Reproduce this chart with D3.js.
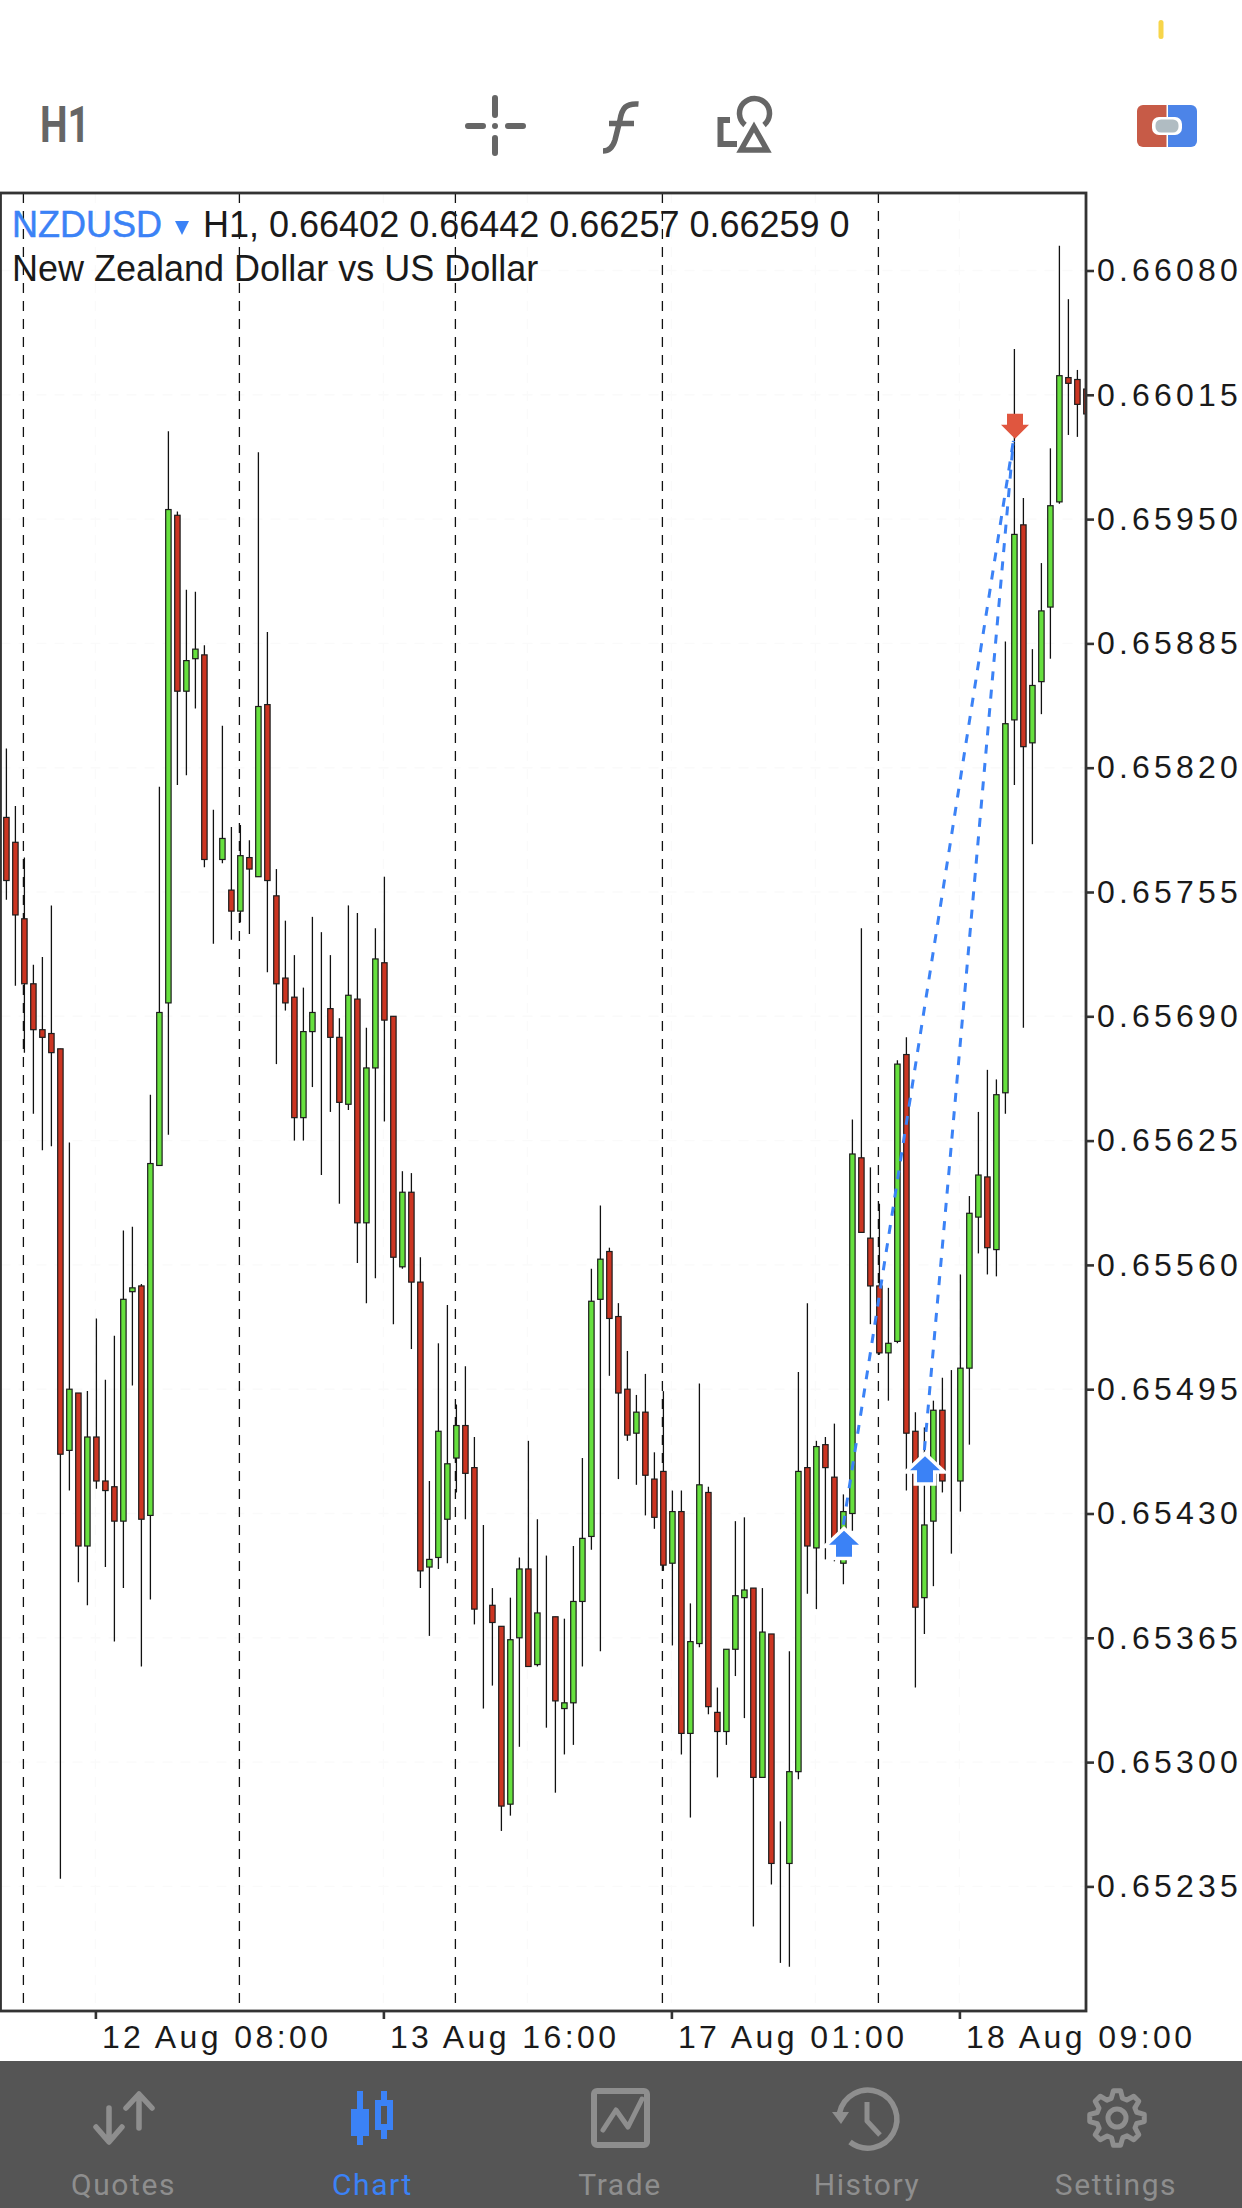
<!DOCTYPE html>
<html><head><meta charset="utf-8">
<script src="https://cdn.jsdelivr.net/npm/d3@7"></script>
<style>html,body{margin:0;padding:0;background:#fff}svg{display:block}
text{font-family:"Liberation Sans",Arial,sans-serif}</style></head>
<body><svg id="c" width="1242" height="2208"></svg>
<script>
// prices are in points (0.00001)
const opens=[65794,65781,65741,65707,65683,65681,65673,65463,65493,65413,65470,65447,65444,65426,65546,65549,65429,65612,65697,65952,65860,65877,65879,65771,65772,65756,65745,65773,65763,65853,65753,65710,65700,65637,65682,65692,65694,65679,65644,65699,65582,65663,65718,65690,65559,65598,65551,65402,65407,65427,65459,65476,65454,65382,65382,65371,65278,65365,65401,65351,65376,65376,65328,65331,65384,65418,65542,65567,65533,65495,65472,65483,65448,65452,65404,65431,65315,65362,65441,65326,65316,65359,65386,65391,65292,65367,65247,65247,65295,65454,65412,65466,65449,65404,65430,65616,65574,65549,65514,65520,65670,65473,65386,65426,65484,65447,65447,65506,65585,65606,65568,65650,65845,65947,65833,65865,65904,65959,66024,66023,66018];
const highs=[65830,65800,65773,65717,65721,65748,65673,65624,65493,65494,65532,65500,65523,65578,65580,65550,65649,65810,65996,65954,65913,65912,65884,65798,65842,65789,65790,65782,65985,65891,65767,65740,65722,65705,65742,65734,65722,65689,65748,65744,65684,65736,65763,65690,65609,65608,65564,65447,65519,65539,65487,65507,65470,65424,65391,65371,65386,65407,65468,65427,65408,65376,65375,65413,65459,65558,65591,65569,65540,65515,65492,65503,65462,65494,65442,65442,65383,65498,65444,65339,65359,65426,65428,65391,65391,65367,65269,65358,65504,65540,65468,65470,65477,65440,65636,65736,65611,65592,65548,65667,65679,65483,65475,65489,65501,65505,65555,65596,65640,65662,65657,65886,66039,65961,65882,65927,65987,66093,66065,66028,66018];
const lows=[65751,65706,65671,65639,65620,65622,65239,65442,65394,65382,65443,65402,65363,65391,65497,65350,65385,65612,65628,65811,65816,65851,65768,65728,65770,65730,65739,65733,65763,65713,65665,65693,65625,65625,65653,65607,65640,65592,65641,65561,65540,65553,65635,65529,65558,65516,65391,65366,65401,65404,65441,65427,65372,65328,65340,65264,65272,65308,65350,65350,65318,65284,65304,65309,65350,65411,65358,65502,65448,65468,65445,65429,65422,65400,65361,65304,65271,65360,65325,65292,65309,65345,65323,65214,65292,65236,65195,65193,65291,65388,65380,65406,65405,65393,65421,65577,65529,65513,65489,65519,65442,65339,65367,65392,65441,65409,65431,65466,65566,65555,65554,65639,65811,65684,65780,65848,65877,65958,65994,65993,66005];
const closes=[65761,65743,65707,65683,65679,65671,65461,65495,65413,65470,65447,65442,65426,65542,65548,65427,65613,65692,65955,65860,65876,65882,65772,65771,65783,65745,65774,65767,65852,65761,65707,65697,65637,65682,65692,65692,65679,65645,65701,65582,65663,65720,65688,65564,65598,65551,65400,65406,65473,65456,65476,65451,65380,65382,65373,65277,65364,65401,65350,65378,65376,65332,65331,65384,65417,65541,65563,65532,65493,65471,65483,65450,65428,65403,65431,65315,65363,65445,65329,65316,65359,65387,65390,65292,65368,65247,65247,65295,65452,65413,65465,65454,65416,65431,65618,65577,65549,65514,65519,65665,65472,65381,65424,65484,65447,65447,65506,65587,65607,65569,65649,65843,65942,65831,65863,65902,65957,66025,66021,66010,66005];
const priceTicks=[66080,66015,65950,65885,65820,65755,65690,65625,65560,65495,65430,65365,65300,65235];
const timeTickBars=[10,42,74,106];
const timeTickLabels=["12 Aug 08:00","13 Aug 16:00","17 Aug 01:00","18 Aug 09:00"];
const gridBars=[10,26,42,58,74,90,106];
const separatorBars=[2,26,50,73,97];
const buyBars=[93,102];
const buyPrices=[65421,65460];
const sellBar=112;
const sellPrice=65992;
const tabs=["Quotes","Chart","Trade","History","Settings"];
const symbolName="NZDUSD";
const quote="H1, 0.66402 0.66442 0.66257 0.66259 0";
const description="New Zealand Dollar vs US Dollar";

const svg=d3.select("#c");
const PL=0.5,PT=193,PR=1086,PB=2011;
const x=d3.scaleLinear().domain([0,120]).range([6.4,1086.4]);
const y=d3.scaleLinear().domain([66080,65235]).range([270.5,1886.4]);
const defs=svg.append("defs");
defs.append("clipPath").attr("id","plot").append("rect").attr("x",PL).attr("y",PT).attr("width",PR-PL).attr("height",PB-PT);
const plot=svg.append("g").attr("clip-path","url(#plot)");

// faint grid
plot.selectAll("line.gy").data(priceTicks).join("line").attr("class","gy").attr("x1",PL).attr("x2",PR)
  .attr("y1",d=>y(d)).attr("y2",d=>y(d)).attr("stroke","#fafafa").attr("stroke-width",1.4).attr("stroke-dasharray","10 8");
plot.selectAll("line.gx").data(gridBars).join("line").attr("class","gx").attr("y1",PT).attr("y2",PB)
  .attr("x1",d=>x(d)-1).attr("x2",d=>x(d)-1).attr("stroke","#fafafa").attr("stroke-width",1.4).attr("stroke-dasharray","10 8");
// day separators
plot.selectAll("line.sep").data(separatorBars).join("line").attr("class","sep").attr("y1",193).attr("y2",2003)
  .attr("x1",d=>x(d)-1).attr("x2",d=>x(d)-1).attr("stroke","#111").attr("stroke-width",1.3).attr("stroke-dasharray","10 8");

// candles
const bars=d3.range(opens.length);
plot.selectAll("line.wick").data(bars).join("line").attr("class","wick").attr("x1",i=>x(i)).attr("x2",i=>x(i))
  .attr("y1",i=>y(highs[i])).attr("y2",i=>y(lows[i])).attr("stroke","#111").attr("stroke-width",1.3);
plot.selectAll("rect.body").data(bars).join("rect").attr("class","body")
  .attr("x",i=>x(i)-2.7).attr("width",5.4)
  .attr("y",i=>y(Math.max(opens[i],closes[i]))).attr("height",i=>Math.abs(y(opens[i])-y(closes[i])))
  .attr("fill",i=>closes[i]>=opens[i]?"#66e03e":"#cc3522")
  .attr("stroke","#1c1c1c").attr("stroke-width",1.2);

// trade links
const blue="#3b82f6";
buyBars.forEach((b,k)=>{
  plot.append("line").attr("x1",x(b)).attr("y1",y(buyPrices[k])-6).attr("x2",x(sellBar)-1).attr("y2",y(sellPrice)+2)
   .attr("stroke",blue).attr("stroke-width",3).attr("stroke-dasharray","9 9.4");
});
// arrows
function arrow(cx,tip,dir,col){
  const p=[[0,0],[15,14*1],[8,14],[8,26],[-8,26],[-8,14],[-15,14]].map(([a,b])=>[cx+a,tip+dir*b]);
  const g=plot.append("g");
  g.append("polygon").attr("points",p.join(" ")).attr("fill","#fff").attr("stroke","#fff").attr("stroke-width",7).attr("stroke-linejoin","miter");
  g.append("polygon").attr("points",p.join(" ")).attr("fill",col);
}
buyBars.forEach((b,k)=>arrow(x(b)+0.6,y(buyPrices[k]),1,blue));
{
  const p=[[0,0],[14,-14],[8,-14],[8,-25],[-8,-25],[-8,-14],[-14,-14]].map(([a,b])=>[x(sellBar)+0.6+a,y(sellPrice)+b]);
  plot.append("polygon").attr("points",p.join(" ")).attr("fill","#e0563f");
}

// axes
const axisStyle=g=>{
  g.selectAll(".domain").remove();
  g.selectAll(".tick line").attr("stroke","#333").attr("stroke-width",2.6);
  g.selectAll("text").attr("fill","#1a1a1a").style("font-family",'"Liberation Sans",Arial,sans-serif').style("font-size","32px");
};
svg.append("g").attr("transform",`translate(${PR+1},0)`)
  .call(d3.axisRight(y).tickValues(priceTicks).tickSize(7).tickPadding(3).tickFormat(d=>(d/100000).toFixed(5)))
  .call(axisStyle).call(g=>g.selectAll("text").style("letter-spacing","4.2px"));
svg.append("g").attr("transform",`translate(-1,${PB+1})`)
  .call(d3.axisBottom(x).tickValues(timeTickBars).tickSize(7).tickFormat((d,i)=>timeTickLabels[i]))
  .call(axisStyle).call(g=>g.selectAll("text").attr("text-anchor","start").attr("x",6).attr("y",0).attr("dy",36).style("letter-spacing","3.4px"));

// frame
svg.append("rect").attr("x",PL).attr("y",PT).attr("width",PR-PL).attr("height",PB-PT).attr("fill","none").attr("stroke","#333").attr("stroke-width",2.8);

// legend
svg.append("text").attr("x",12).attr("y",237).attr("fill",blue).attr("stroke",blue).attr("stroke-width",0.5).attr("font-size",36).text(symbolName);
svg.append("polygon").attr("points","175,221 189,221 182,235").attr("fill",blue);
svg.append("text").attr("x",203).attr("y",237).attr("fill","#1a1a1a").attr("font-size",36).text(quote);
svg.append("text").attr("x",12).attr("y",281).attr("fill","#1a1a1a").attr("font-size",36).text(description);

// top bar
const grey="#666";
svg.append("rect").attr("x",1158.5).attr("y",20).attr("width",5).attr("height",19).attr("rx",2.5).attr("fill","#f7d54a");
svg.append("text").attr("x",40).attr("y",141.5).attr("fill",grey).attr("font-size",50).attr("font-weight",700)
  .attr("textLength",50).attr("lengthAdjust","spacingAndGlyphs").style("font-family","Roboto").text("H1");
const topIcons=svg.append("g").attr("fill","none").attr("stroke",grey);
topIcons.append("path").attr("d","M468 126H483M508 126H523M495 98V115M495 138V153").attr("stroke-width",6).attr("stroke-linecap","round");
svg.append("circle").attr("cx",495).attr("cy",126).attr("r",3).attr("fill",grey);
topIcons.append("path").attr("d","M638.5 104C626 103 622 108 620 120L615 140C612 150 606 151 603 151").attr("stroke-width",5.5);
topIcons.append("path").attr("d","M609 123.5H634").attr("stroke-width",5.5);
topIcons.append("path").attr("d","M745 125A15 15 0 1 1 764 125").attr("stroke-width",5.5);
topIcons.append("path").attr("d","M730 120H720.5V144H737").attr("stroke-width",6);
topIcons.append("path").attr("d","M754 127L767 150H741Z").attr("stroke-width",5.5);
// one-click toggle
svg.append("path").attr("d","M1166.5 105H1143a6 6 0 0 0 -6 6V141a6 6 0 0 0 6 6H1166.5Z").attr("fill","#c75b47");
svg.append("path").attr("d","M1168 105H1191a6 6 0 0 1 6 6V141a6 6 0 0 1 -6 6H1168Z").attr("fill","#4c84e8");
svg.append("rect").attr("x",1152).attr("y",117).attr("width",30).attr("height",18).attr("rx",7).attr("fill","#fff");
svg.append("rect").attr("x",1155.5).attr("y",119.5).attr("width",23).attr("height",13).attr("rx",5.5).attr("fill","#b0bcc2");

// tab bar
svg.append("rect").attr("x",0).attr("y",2061).attr("width",1242).attr("height",147).attr("fill","#555");
const tabX=[123.5,372.5,620,867,1116];
svg.selectAll("text.tab").data(tabs).join("text").attr("class","tab").attr("x",(d,i)=>tabX[i]).attr("y",2195).attr("text-anchor","middle")
  .attr("font-size",30).attr("letter-spacing",1.6).attr("fill",(d,i)=>i==1?blue:"#8e8e8e").style("font-family","Roboto").text(d=>d);
const ic="#8e8e8e";
const ig=svg.append("g").attr("fill","none").attr("stroke",ic).attr("stroke-width",5.5).attr("stroke-linecap","round").attr("stroke-linejoin","round");
ig.append("path").attr("d","M139 2096V2128M126 2108L139 2094L152 2108");
ig.append("path").attr("d","M109 2108V2140M96 2127L109 2142L122 2127");
svg.append("rect").attr("x",357).attr("y",2091).attr("width",6).attr("height",54).attr("fill",blue);
svg.append("rect").attr("x",351).attr("y",2109).attr("width",18).attr("height",27).attr("fill",blue);
svg.append("rect").attr("x",381).attr("y",2091).attr("width",6).attr("height",48).attr("fill",blue);
svg.append("rect").attr("x",375).attr("y",2100).attr("width",18).attr("height",30).attr("fill",blue);
svg.append("rect").attr("x",381).attr("y",2106).attr("width",6).attr("height",18).attr("fill","#555");
svg.append("rect").attr("x",594).attr("y",2091).attr("width",53).attr("height",54).attr("rx",3).attr("fill","none").attr("stroke",ic).attr("stroke-width",6);
ig.append("path").attr("d","M603 2130L616 2110L628 2127L642 2099").attr("stroke-width",5);
// history
ig.append("path").attr("d","M839.5 2113A29 29 0 1 1 850 2142").attr("stroke-linecap","butt");
svg.append("polygon").attr("points","832,2112 849,2112 841,2124").attr("fill",ic);
ig.append("path").attr("d","M867 2102V2121L880 2135").attr("stroke-linecap","butt").attr("stroke-width",5);
// settings
const gearPts=[];const gcx=1117,gcy=2118;
for(let k=0;k<8;k++){const a=k*Math.PI/4-Math.PI/2;
  gearPts.push([gcx+27.5*Math.cos(a-0.13),gcy+27.5*Math.sin(a-0.13)],[gcx+27.5*Math.cos(a+0.13),gcy+27.5*Math.sin(a+0.13)],
    [gcx+20.5*Math.cos(a+0.27),gcy+20.5*Math.sin(a+0.27)],[gcx+20.5*Math.cos(a+0.5),gcy+20.5*Math.sin(a+0.5)]);
}
svg.append("polygon").attr("points",gearPts.join(" ")).attr("fill","none").attr("stroke",ic).attr("stroke-width",5).attr("stroke-linejoin","round");
svg.append("circle").attr("cx",gcx).attr("cy",gcy).attr("r",9).attr("fill","none").attr("stroke",ic).attr("stroke-width",5);
</script></body></html>
